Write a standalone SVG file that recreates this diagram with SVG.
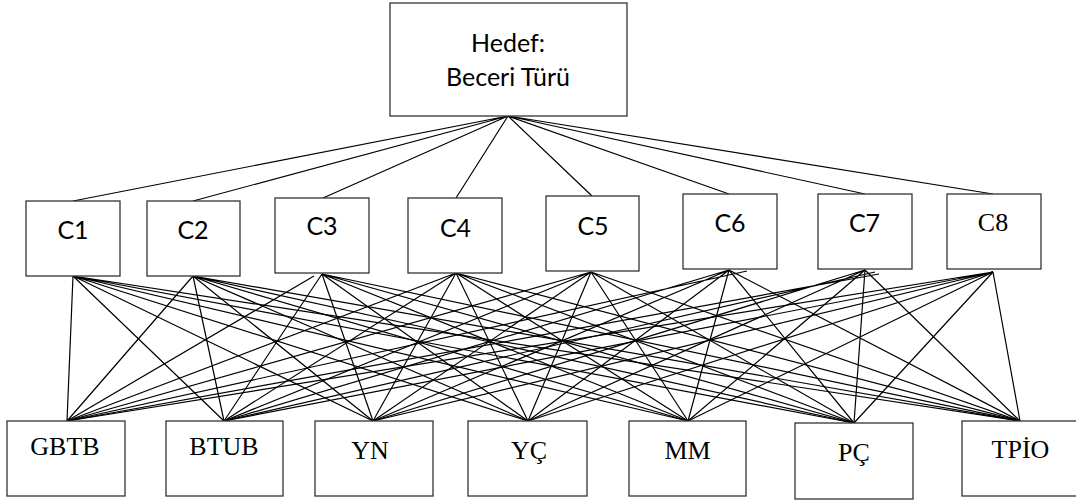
<svg xmlns="http://www.w3.org/2000/svg" width="1076" height="500" viewBox="0 0 1076 500">
<style>
.box{fill:#fff;stroke:#333;stroke-width:1.3}
.ln{stroke:#000;stroke-width:1.2;fill:none}
.s{font-family:Lato,"Open Sans",sans-serif;font-size:25px;fill:#000;text-anchor:middle}
.t{font-family:"Liberation Serif",serif;font-size:26px;fill:#000;text-anchor:middle}
</style>
<rect width="1076" height="500" fill="#fff"/>
<g id="connectors" class="ln">
<path d="M508,116L73,201M508,116L193,201M508,116L323,198M508,116L456,198M508,116L592,196M508,116L729,194M508,116L865,194M508,116L993,194"/>
<path d="M73,276L67,421M73,276L224,421M73,276L373,421M73,276L528,421M73,276L688,421M73,276L854,423M73,276L1020,421"/>
<path d="M193,276L67,421M193,276L224,421M193,276L373,421M193,276L528,421M193,276L688,421M193,276L854,423M193,276L1020,421"/>
<path d="M314,276L67,421M322,274L224,421M322,274L373,421M322,274L528,421M322,274L688,421M322,274L854,423M322,274L1020,421"/>
<path d="M456,273L67,421M456,273L224,421M456,273L373,421M456,273L528,421M456,273L688,421M456,273L854,423M456,273L1020,421"/>
<path d="M591,272L67,421M591,272L224,421M591,272L373,421M591,272L528,421M591,272L688,421M591,272L854,423M591,272L1020,421"/>
<path d="M747,271L67,421M729,270L224,421M729,270L373,421M729,270L528,421M729,270L688,421M729,270L854,423M729,270L1020,421"/>
<path d="M879,274L67,421M875,272L224,421M865,270L373,421M865,270L528,421M865,270L688,421M865,270L854,423M865,270L1020,421"/>
<path d="M993,272L67,421M993,272L224,421M993,272L373,421M993,272L528,421M993,272L688,421M993,272L854,423M993,272L1020,421"/>
</g>
<g id="goal"><rect class="box" x="390" y="3" width="237" height="113"/><text class="s" x="508" y="52" font-size="28">Hedef:</text><text class="s" x="508" y="86" font-size="28">Beceri Türü</text></g>
<g id="c1"><rect class="box" x="26" y="201" width="94" height="75"/><text class="s" x="73" y="239">C1</text></g>
<g id="c2"><rect class="box" x="147" y="201" width="93" height="75"/><text class="s" x="193" y="239">C2</text></g>
<g id="c3"><rect class="box" x="275" y="198" width="94" height="75"/><text class="s" x="322" y="235">C3</text></g>
<g id="c4"><rect class="box" x="408" y="198" width="94" height="75"/><text class="s" x="455.5" y="237">C4</text></g>
<g id="c5"><rect class="box" x="546" y="196" width="93" height="75"/><text class="s" x="593" y="235">C5</text></g>
<g id="c6"><rect class="box" x="683" y="194" width="94" height="75"/><text class="s" x="730" y="232">C6</text></g>
<g id="c7"><rect class="box" x="818" y="194" width="94" height="75"/><text class="s" x="864.5" y="232">C7</text></g>
<g id="c8"><rect class="box" x="947" y="194" width="94" height="75"/><text class="t" x="993" y="231">C8</text></g>
<g id="gbtb"><rect class="box" x="7" y="421" width="118" height="75"/><text class="t" x="65" y="455">GBTB</text></g>
<g id="btub"><rect class="box" x="166" y="421" width="117" height="75"/><text class="t" x="224" y="455">BTUB</text></g>
<g id="yn"><rect class="box" x="315" y="421" width="118" height="75"/><text class="t" x="370" y="459">YN</text></g>
<g id="yc"><rect class="box" x="468" y="421" width="119" height="75"/><text class="t" x="529" y="459">YÇ</text></g>
<g id="mm"><rect class="box" x="629" y="421" width="117" height="75"/><text class="t" x="687.5" y="459">MM</text></g>
<g id="pc"><rect class="box" x="795" y="423" width="118" height="76"/><text class="t" x="854" y="461">PÇ</text></g>
<g id="tpio"><rect class="box" x="962" y="421" width="118" height="75"/><text class="t" x="1020.5" y="458">TPİO</text></g>
</svg>
